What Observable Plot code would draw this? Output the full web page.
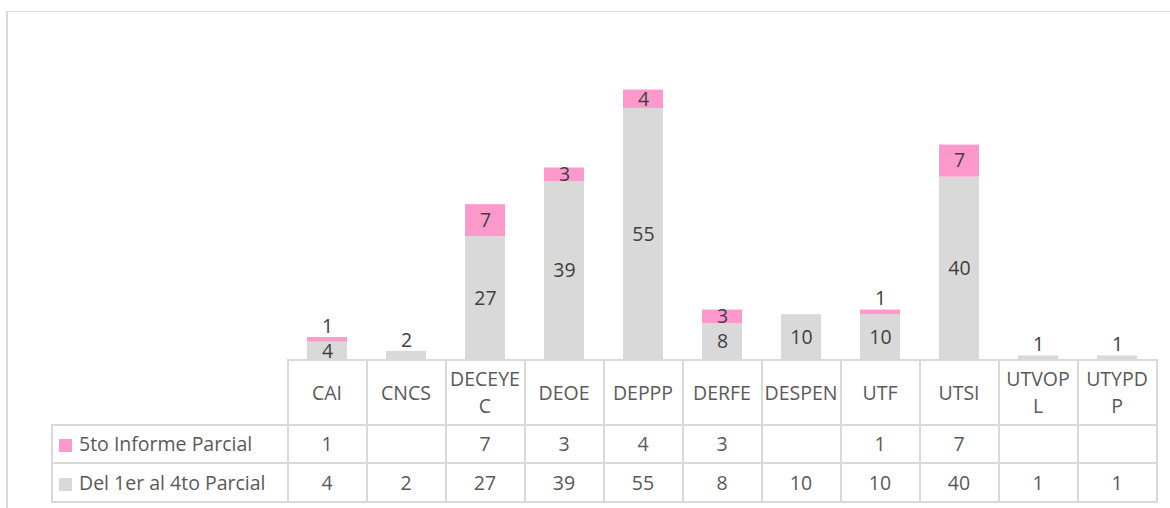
<!DOCTYPE html>
<html><head><meta charset="utf-8">
<script src="https://cdn.jsdelivr.net/npm/d3@7"></script>
<script src="https://cdn.jsdelivr.net/npm/@observablehq/plot@0.6"></script>
<style>
body{margin:0;background:#fff;font-family:"Open Sans",sans-serif;}
#wrap{position:relative;width:1170px;height:508px;overflow:hidden;background:#fff;}
#frame{position:absolute;left:6px;top:11px;right:-4px;bottom:-4px;border-left:2px solid #d9d9d9;border-top:1px solid #d9d9d9;}
#chart{position:absolute;left:0;top:0;}
#tbl{position:absolute;border-collapse:collapse;table-layout:fixed;font-size:19.5px;color:#595959;font-family:"Open Sans",sans-serif;}
#tbl td{border:2px solid #d9d9d9;text-align:center;padding:0 0 1px 0;box-sizing:border-box;line-height:27px;overflow:visible;}
#tbl td.empty{border-top:none;border-left:none;}
#tbl td.leg{text-align:left;padding-left:6px;white-space:nowrap;}
.sw{display:inline-block;width:13px;height:13px;margin-right:7px;vertical-align:-1px;}
</style></head><body>
<div id="wrap"><div id="frame"></div><div id="chart"></div></div>
<script>
const categories = ["CAI","CNCS","DECEYEC","DEOE","DEPPP","DERFE","DESPEN","UTF","UTSI","UTVOPL","UTYPDP"];
const catLabels = ["CAI","CNCS","DECEYE\nC","DEOE","DEPPP","DERFE","DESPEN","UTF","UTSI","UTVOP\nL","UTYPD\nP"];
const seriesNames = ["Del 1er al 4to Parcial","5to Informe Parcial"];
const baseValues = [4,2,27,39,55,8,10,10,40,1,1];
const fifthValues = [1,null,7,3,4,3,null,1,7,null,null];
const seriesColors = ["#D9D9D9","#FF99CC"];

const segments = [];
categories.forEach((c,i)=>{
  const b = baseValues[i], f = fifthValues[i];
  if (b != null) segments.push({cat:c, series:seriesNames[0], v:b, y1:0, y2:b});
  if (f != null) segments.push({cat:c, series:seriesNames[1], v:f, y1:b||0, y2:(b||0)+f});
});
const inside = segments.filter(d=>d.v>=3);
const above = segments.filter(d=>d.v<3);

const chart = Plot.plot({
  width:1170, height:508,
  marginLeft:286, marginRight:13, marginTop:85, marginBottom:148,
  style:{background:"transparent", fontFamily:"'Open Sans', sans-serif"},
  x:{domain:categories, paddingInner:0.5, paddingOuter:0.25, axis:null},
  y:{domain:[0,60], axis:null},
  color:{domain:seriesNames, range:seriesColors},
  marks:[
    Plot.barY(segments,{x:"cat", y1:"y1", y2:"y2", fill:"series"}),
    Plot.text(inside,{x:"cat", y:d=>(d.y1+d.y2)/2, text:d=>String(d.v), fill:"#404040", fontSize:19.5, lineAnchor:"middle"}),
    Plot.text(above,{x:"cat", y:"y2", text:d=>String(d.v), fill:"#404040", fontSize:19.5, lineAnchor:"middle", dy:-11})
  ]
});
document.getElementById("chart").appendChild(chart);

// data table below the chart, aligned to the x scale
const xs = chart.scale("x");
const step = xs.step, bw = xs.bandwidth;
const colLeft = xs.apply(categories[0]) - (step - bw)/2;
const legLeft = 52;
const tbl = document.createElement("table");
tbl.id = "tbl";
tbl.style.left = (legLeft-1) + "px";
tbl.style.top = "359px";
const cg = document.createElement("colgroup");
const c0 = document.createElement("col"); c0.style.width = (colLeft-legLeft)+"px"; cg.appendChild(c0);
categories.forEach(()=>{const c=document.createElement("col"); c.style.width=step+"px"; cg.appendChild(c);});
tbl.appendChild(cg);
tbl.style.width = (colLeft-legLeft+step*categories.length)+"px";
// header
const trH = document.createElement("tr"); trH.style.height="65px";
const e = document.createElement("td"); e.className="empty"; trH.appendChild(e);
catLabels.forEach(l=>{const td=document.createElement("td"); td.style.whiteSpace="pre"; td.textContent=l; trH.appendChild(td);});
tbl.appendChild(trH);
// series rows (top row = 5to, then Del 1er)
[[1,fifthValues,"38px"],[0,baseValues,"39px"]].forEach(([si,vals,h])=>{
  const tr=document.createElement("tr"); tr.style.height=h;
  const td=document.createElement("td"); td.className="leg";
  const sw=document.createElement("span"); sw.className="sw"; sw.style.background=seriesColors[si];
  td.appendChild(sw); td.appendChild(document.createTextNode(seriesNames[si]));
  tr.appendChild(td);
  vals.forEach(v=>{const c=document.createElement("td"); c.textContent = v==null? "" : String(v); tr.appendChild(c);});
  tbl.appendChild(tr);
});
document.getElementById("wrap").appendChild(tbl);
</script>
</body></html>
